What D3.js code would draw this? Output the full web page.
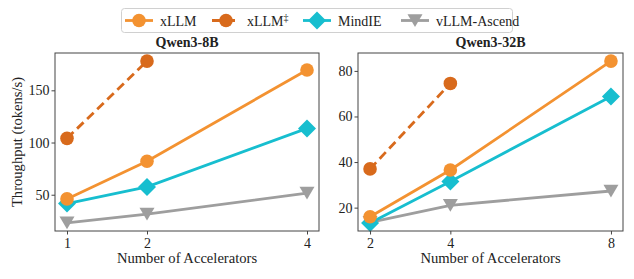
<!DOCTYPE html>
<html>
<head>
<meta charset="utf-8">
<script src="https://cdn.jsdelivr.net/npm/d3@7"></script>
<style>
  body { margin: 0; background: #fff; }
  svg { display: block; }
  svg text { font-family: "Liberation Serif", "Times New Roman", Times, serif !important; }
</style>
</head>
<body>
<div id="chart"></div>
<script>
// Data
const seriesNames = ['xLLM', 'xLLM', 'MindIE', 'vLLM-Ascend'];

const accel8B  = [1, 2, 4];
const xllm8B   = [46, 82, 169.5];
const xllmD8B  = [104, 178];
const mindie8B = [41.5, 57.5, 113.5];
const vllm8B   = [23, 31.5, 51.5];

const accel32B  = [2, 4, 8];
const xllm32B   = [16, 36.5, 84.3];
const xllmD32B  = [37, 74.5];
const mindie32B = [13.3, 31.5, 68.8];
const vllm32B   = [13.5, 21, 27.3];

const ticks8B  = [50, 100, 150];
const ticks32B = [20, 40, 60, 80];

const colors = { xllm: '#f39231', xllmD: '#d86a1c', mindie: '#17becf', vllm: '#9e9e9e' };

const width = 634, height = 279;
const svg = d3.select('#chart').append('svg')
  .attr('width', width).attr('height', height);

const panels = [
  { title: 'Qwen3-8B', x: accel8B, xllm: xllm8B, xllmD: xllmD8B, mindie: mindie8B, vllm: vllm8B,
    yTicks: ticks8B, left: 55, right: 319 },
  { title: 'Qwen3-32B', x: accel32B, xllm: xllm32B, xllmD: xllmD32B, mindie: mindie32B, vllm: vllm32B,
    yTicks: ticks32B, left: 358, right: 623 }
];
const plotTop = 53, plotBottom = 231;

function padded(lo, hi) {
  const p = (hi - lo) * 0.05;
  return [lo - p, hi + p];
}

function marker(g, type, cx, cy, color) {
  if (type === 'circle') {
    g.append('circle').attr('cx', cx).attr('cy', cy).attr('r', 6.8).attr('fill', color);
  } else if (type === 'diamond') {
    const s = 9;
    g.append('path').attr('d', `M${cx},${cy - s}L${cx + s},${cy}L${cx},${cy + s}L${cx - s},${cy}Z`)
      .attr('fill', color);
  } else {
    const s = 7.5;
    g.append('path').attr('d', `M${cx - s},${cy - s * 0.85}L${cx + s},${cy - s * 0.85}L${cx},${cy + s * 0.85}Z`)
      .attr('fill', color);
  }
}

panels.forEach((p, pi) => {
  const allY = [...p.xllm, ...p.xllmD, ...p.mindie, ...p.vllm];
  const xd = padded(d3.min(p.x), d3.max(p.x));
  const yd = padded(d3.min(allY), d3.max(allY));
  const x = d3.scaleLinear().domain(xd).range([p.left, p.right]);
  const y = d3.scaleLinear().domain(yd).range([plotBottom, plotTop]);

  const g = svg.append('g');

  const series = [
    { key: 'vllm', vals: p.vllm, xs: p.x, type: 'tri', dash: null },
    { key: 'mindie', vals: p.mindie, xs: p.x, type: 'diamond', dash: null },
    { key: 'xllm', vals: p.xllm, xs: p.x, type: 'circle', dash: null },
    { key: 'xllmD', vals: p.xllmD, xs: p.x.slice(0, 2), type: 'circle', dash: '9,5' }
  ];

  const line = d3.line().x(d => x(d[0])).y(d => y(d[1]));
  series.forEach(s => {
    const pts = s.xs.map((xv, i) => [xv, s.vals[i]]);
    g.append('path').attr('d', line(pts))
      .attr('fill', 'none').attr('stroke', colors[s.key]).attr('stroke-width', 2.8)
      .attr('stroke-dasharray', s.dash);
    pts.forEach(d => marker(g, s.type, x(d[0]), y(d[1]), colors[s.key]));
  });

  // frame
  g.append('rect').attr('x', p.left).attr('y', plotTop)
    .attr('width', p.right - p.left).attr('height', plotBottom - plotTop)
    .attr('fill', 'none').attr('stroke', '#444').attr('stroke-width', 1);

  const xAxis = g.append('g').attr('transform', `translate(0,${plotBottom})`)
    .call(d3.axisBottom(x).tickValues(p.x).tickSize(3.5).tickPadding(4).tickFormat(d3.format('d')));
  const yAxis = g.append('g').attr('transform', `translate(${p.left},0)`)
    .call(d3.axisLeft(y).tickValues(p.yTicks).tickSize(3.5).tickPadding(2).tickFormat(d3.format('d')));
  [xAxis, yAxis].forEach(a => {
    a.select('.domain').remove();
    a.selectAll('line').attr('stroke', '#444');
    a.selectAll('text').attr('font-size', 14).attr('fill', '#222');
  });

  g.append('text').attr('x', (p.left + p.right) / 2).attr('y', 263)
    .attr('text-anchor', 'middle').attr('font-size', 14.6).attr('fill', '#222')
    .text('Number of Accelerators');

  g.append('text').attr('x', (p.left + p.right) / 2).attr('y', 47)
    .attr('text-anchor', 'middle').attr('font-size', 14).attr('font-weight', 'bold').attr('fill', '#222')
    .text(p.title);

  if (pi === 0) {
    g.append('text').attr('transform', `translate(22,${(plotTop + plotBottom) / 2}) rotate(-90)`)
      .attr('text-anchor', 'middle').attr('font-size', 14.6).attr('fill', '#222')
      .text('Throughput (tokens/s)');
  }
});

// Legend
const legend = svg.append('g');
legend.append('rect').attr('x', 121.5).attr('y', 8.5).attr('width', 391).attr('height', 24).attr('rx', 3)
  .attr('fill', '#fff').attr('fill-opacity', 0.8).attr('stroke', '#d0d0d0');
const legItems = [
  { key: 'xllm', type: 'circle', dash: null, x0: 125, sup: '' },
  { key: 'xllmD', type: 'circle', dash: '9,5', x0: 212, sup: '\u2021' },
  { key: 'mindie', type: 'diamond', dash: null, x0: 303, sup: '' },
  { key: 'vllm', type: 'tri', dash: null, x0: 401, sup: '' }
];
legItems.forEach((it, i) => {
  const ly = 20.5;
  legend.append('line').attr('x1', it.x0).attr('x2', it.x0 + 28).attr('y1', ly).attr('y2', ly)
    .attr('stroke', colors[it.key]).attr('stroke-width', 2.8).attr('stroke-dasharray', it.dash);
  marker(legend, it.type, it.x0 + 14, ly, colors[it.key]);
  const t = legend.append('text').attr('x', it.x0 + 35).attr('y', ly + 5)
    .attr('font-size', 14).attr('fill', '#222').text(seriesNames[i]);
  if (it.sup) {
    t.append('tspan').attr('dy', -5).attr('font-size', 10).text(it.sup);
  }
});
</script>
</body>
</html>
